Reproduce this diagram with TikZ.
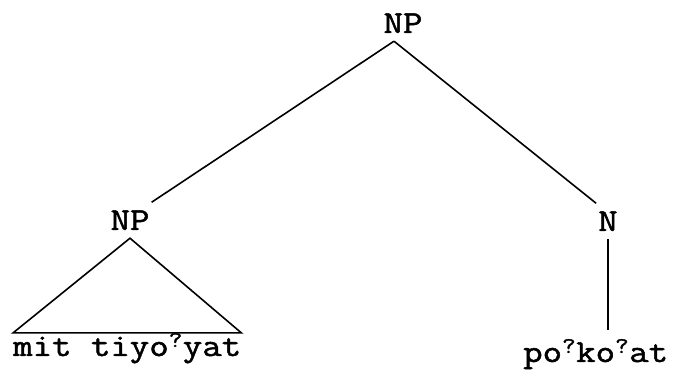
\documentclass[tikz,border=0pt]{standalone}
\usepackage{fontspec}
\setmonofont{Latin Modern Mono}[FakeStretch=1.18, FakeBold=1.5]
\usepackage{tikz}
\usetikzlibrary{positioning, calc}

\newcommand{\gstop}{\textsuperscript{?}}

\begin{document}
\begin{tikzpicture}[
    x=1pt, y=-1pt,
    font=\ttfamily\fontsize{32}{38}\selectfont,
    label/.style={anchor=base, inner xsep=2pt, inner ysep=8pt},
    leaf/.style={anchor=base west, inner sep=0pt},
    branch/.style={line width=1.6pt},
]
\useasboundingbox (0,0) rectangle (681,371);

% ── Category labels ──
\node[label] (np0) at (403, 33) {NP};
\node[label] (np1) at (130, 230) {NP};
\node[label] (n) at (608, 231) {N};

% ── Terminal strings ──
\node[leaf] (mt) at (13, 356) {mit tiyo\gstop yat};
\node[leaf] (pk) at (523, 362) {po\gstop ko\gstop at};

% ── Branches ──
\coordinate (np0tip) at ([xshift=-9pt]np0.south);
\draw[branch] (np0tip) -- (np1.north east);
\draw[branch] (np0tip) -- (n.north west);
\draw[branch] (np1.south) -- (mt.north west) -- (mt.north east) -- cycle;
\draw[branch] (n.south) -- ([yshift=9pt]n.south |- pk.north);
\end{tikzpicture}
\end{document}
